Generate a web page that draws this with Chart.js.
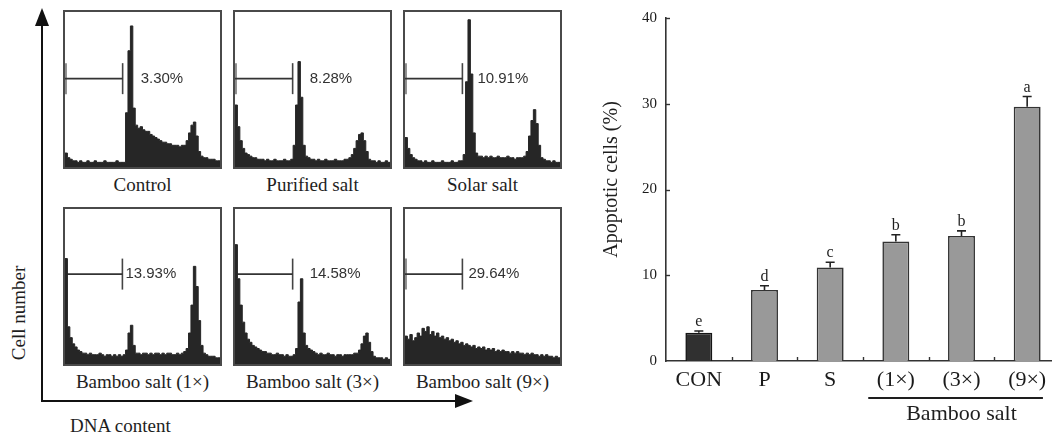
<!DOCTYPE html>
<html>
<head>
<meta charset="utf-8">
<script src="https://cdn.jsdelivr.net/npm/chart.js@4.4.0/dist/chart.umd.min.js"></script>
<style>
html, body { margin:0; padding:0; width:1052px; height:437px; overflow:hidden; background:#ffffff; }
.panel { position:absolute; width:159px; height:159px; box-sizing:border-box; border:2px solid #4a4a4a; background:#fff; }
.panel canvas { display:block; }
.txt { position:absolute; font-family:"Liberation Serif","Times New Roman",serif; font-size:19px; color:#1e1e1e; white-space:nowrap; line-height:1; }
#barWrap { position:absolute; left:560px; top:0; width:492px; height:437px; overflow:hidden; }
#barWrap canvas { position:absolute; left:0; top:0; }
</style>
</head>
<body>
<svg width="480" height="437" style="position:absolute;left:0;top:0">
  <line x1="42" y1="22" x2="42" y2="402" stroke="#111" stroke-width="2"/>
  <polygon points="42,8 35,26 49,26" fill="#111"/>
  <line x1="41" y1="401" x2="460" y2="401" stroke="#111" stroke-width="2"/>
  <polygon points="473,401 455,394 455,408" fill="#111"/>
</svg>
<div id="left"></div>
<div class="txt" style="left:18px;top:313px;transform:translate(-50%,-50%) rotate(-90deg);">Cell number</div>
<div class="txt" style="left:70px;top:425px;transform:translate(0,-50%);">DNA content</div>
<div id="barWrap"><canvas id="bars" width="510" height="437"></canvas></div>

<script>
// ---------------- data ----------------
const panelNames = ['Control', 'Purified salt', 'Solar salt', 'Bamboo salt (1×)', 'Bamboo salt (3×)', 'Bamboo salt (9×)'];

// DNA-content histograms (64 channels, % of panel height)
const histControl = [9,6,5,4,4,3,4,3,3,4,3,3,4,3,3,3,4,3,3,3,3,4,3,3,3,
  35,75,91,38,
  27,25,26,24,23,23,21,20,19,18,17,16,16,15,15,14,14,14,13,14,14,
  17,22,27,29,20,10,7,6,6,5,5,5,4,4];
const histPurified = [40,26,17,12,9,8,7,6,6,5,5,5,4,5,4,4,5,4,4,4,5,4,4,
  5,14,40,68,45,14,7,6,
  5,5,4,5,4,4,5,4,4,4,5,4,4,4,5,5,
  6,8,12,17,21,22,17,10,5,4,4,3,4,3,3,4,3];
const histSolar = [19,12,8,6,5,4,4,3,4,3,3,4,3,3,3,4,3,3,3,4,3,3,4,4,
  8,55,95,60,22,9,7,
  7,6,7,6,7,6,6,7,6,6,6,7,6,6,5,6,6,6,7,
  10,20,30,37,28,14,6,5,4,4,3,4,3,3];
const histBamboo1 = [68,24,17,13,11,9,8,7,7,6,7,6,6,6,7,6,5,6,6,5,6,5,6,5,6,
  9,20,25,12,7,
  7,6,7,7,6,7,6,7,7,6,7,6,7,7,6,6,7,6,7,8,
  10,20,38,63,50,28,12,7,6,5,5,5,4,4];
const histBamboo3 = [77,55,38,27,20,16,14,12,11,10,9,8,8,7,7,6,6,7,6,6,5,6,5,5,6,
  10,40,55,20,12,10,9,8,
  7,6,7,6,6,7,6,6,5,6,6,5,6,6,6,6,7,
  7,9,13,18,20,14,8,5,4,4,4,3,4,3];
const histBamboo9 = [18,16,19,15,17,20,18,23,21,24,
  19,21,18,20,17,18,16,17,15,16,
  14,15,13,14,12,13,12,11,12,10,
  11,10,11,9,10,9,10,8,9,8,
  9,8,8,7,8,7,8,7,7,6,
  7,6,7,6,6,5,6,5,6,5,
  5,4,5,4];
const histograms = [histControl, histPurified, histSolar, histBamboo1, histBamboo3, histBamboo9];

// gate marker (channel where gate ends, level in % of panel height)
const gateEnd = [23.8, 23.8, 23.7, 23.7, 23.8, 23.7];
const gateLevel = [57, 57, 57, 58, 58, 58];

// bar chart
const categories = ['CON', 'P', 'S', '(1×)', '(3×)', '(9×)'];
const apoptotic = [3.30, 8.28, 10.91, 13.93, 14.58, 29.64];
const errorBars = [0.2, 0.5, 0.6, 0.8, 0.6, 1.2];
const sigLetters = ['e', 'd', 'c', 'b', 'b', 'a'];
const yTicks = [0, 10, 20, 30, 40];
const groupLabel = 'Bamboo salt';
const yTitle = 'Apoptotic cells (%)';

// ---------------- layout / style ----------------
const SERIF = '"Liberation Serif","Times New Roman",serif';
const SANS = '"Liberation Sans",Arial,sans-serif';
const panelCols = [63, 233, 403];
const panelRows = [10, 207];
const panelSize = 159;
const labelGap = [18, 17, 15, 3, 17, 6];
const barFill = ['#303030', '#999999', '#999999', '#999999', '#999999', '#999999'];
const barEdge = ['#151515', '#333333', '#333333', '#333333', '#333333', '#333333'];

const gateText = {
  id: 'gateText',
  afterDatasetsDraw(chart, args, o) {
    const { ctx, scales: { x, y } } = chart;
    ctx.save();
    ctx.font = '15px ' + SANS;
    ctx.fillStyle = '#333333';
    ctx.textAlign = 'left';
    ctx.textBaseline = 'middle';
    ctx.fillText(o.text, x.getPixelForValue(o.end) + o.gap, y.getPixelForValue(o.level));
    ctx.restore();
  }
};

const left = document.getElementById('left');
histograms.forEach((h, i) => {
  const col = i % 3, row = Math.floor(i / 3);
  const px = panelCols[col], py = panelRows[row];
  const div = document.createElement('div');
  div.className = 'panel';
  div.style.left = px + 'px';
  div.style.top = py + 'px';
  const cv = document.createElement('canvas');
  cv.width = panelSize - 4; cv.height = panelSize - 4;
  div.appendChild(cv);
  left.appendChild(div);

  const lab = document.createElement('div');
  lab.className = 'txt';
  lab.textContent = panelNames[i];
  lab.style.left = (px + panelSize / 2) + 'px';
  lab.style.top = (py + 174) + 'px';
  lab.style.transform = 'translate(-50%,-50%)';
  left.appendChild(lab);

  const pts = h.map((v, k) => ({ x: k, y: v }));
  pts.push({ x: h.length, y: h[h.length - 1] });
  const g = gateLevel[i], e = gateEnd[i];
  new Chart(cv, {
    type: 'line',
    data: {
      datasets: [
        { data: pts, stepped: true, fill: 'origin', backgroundColor: '#262626', borderColor: '#262626', borderWidth: 1, pointRadius: 0 },
        { data: [{ x: 0, y: g }, { x: e, y: g }], borderColor: '#333', borderWidth: 1.6, pointRadius: 0, fill: false },
        { data: [{ x: e, y: g - 10 }, { x: e, y: g + 10 }], borderColor: '#444', borderWidth: 1.6, pointRadius: 0, fill: false },
        { data: [{ x: 0.35, y: g - 10 }, { x: 0.35, y: g + 10 }], borderColor: '#8c8c8c', borderWidth: 2.2, pointRadius: 0, fill: false }
      ]
    },
    options: {
      responsive: false, animation: false,
      layout: { padding: 0 },
      plugins: { legend: { display: false }, tooltip: { enabled: false },
        gateText: { text: apoptotic[i].toFixed(2) + '%', end: e, level: g, gap: labelGap[i] } },
      scales: {
        x: { type: 'linear', min: 0, max: h.length, display: false },
        y: { min: 0, max: 100, display: false }
      }
    },
    plugins: [gateText]
  });
});

const barDecor = {
  id: 'barDecor',
  afterDatasetsDraw(chart) {
    const { ctx, scales: { x, y } } = chart;
    const meta = chart.getDatasetMeta(0);
    ctx.save();
    ctx.strokeStyle = '#333';
    ctx.lineWidth = 1.4;
    // inward tick marks
    yTicks.forEach(v => {
      if (v === 0) return;
      const py = Math.round(y.getPixelForValue(v)) + 0.5;
      ctx.beginPath(); ctx.moveTo(x.left, py); ctx.lineTo(x.left + 4, py); ctx.stroke();
    });
    for (let i = 1; i < categories.length; i++) {
      const px = Math.round((x.getPixelForValue(i - 1) + x.getPixelForValue(i)) / 2) + 0.5;
      ctx.beginPath(); ctx.moveTo(px, y.bottom); ctx.lineTo(px, y.bottom - 4); ctx.stroke();
    }
    // error bars and significance letters
    meta.data.forEach((bar, i) => {
      const top = y.getPixelForValue(apoptotic[i] + errorBars[i]);
      ctx.strokeStyle = '#222';
      ctx.lineWidth = 1.6;
      ctx.beginPath();
      ctx.moveTo(bar.x, bar.y); ctx.lineTo(bar.x, top);
      ctx.moveTo(bar.x - 4.5, top); ctx.lineTo(bar.x + 4.5, top);
      ctx.stroke();
      ctx.fillStyle = '#1e1e1e';
      ctx.font = '16px ' + SERIF;
      ctx.textAlign = 'center';
      ctx.textBaseline = 'alphabetic';
      ctx.fillText(sigLetters[i], bar.x, top - 5);
    });
    // group bracket
    const w = x.width / categories.length;
    const x1 = x.getPixelForValue(3) - 0.42 * w;
    const x2 = x.getPixelForValue(5) + 0.24 * w;
    const ly = y.bottom + 37;
    ctx.strokeStyle = '#1e1e1e';
    ctx.lineWidth = 2;
    ctx.beginPath(); ctx.moveTo(x1, ly); ctx.lineTo(x2, ly); ctx.stroke();
    ctx.fillStyle = '#1e1e1e';
    ctx.font = '22px ' + SERIF;
    ctx.textAlign = 'center';
    ctx.textBaseline = 'middle';
    ctx.fillText(groupLabel, x.getPixelForValue(4), y.bottom + 53);
    // y-axis title
    ctx.translate(52, (y.top + y.bottom) / 2 - 10);
    ctx.rotate(-Math.PI / 2);
    ctx.font = '20px ' + SERIF;
    ctx.fillText(yTitle, 0, 0);
    ctx.restore();
  }
};

new Chart(document.getElementById('bars'), {
  type: 'bar',
  data: {
    labels: categories,
    datasets: [{
      data: apoptotic,
      backgroundColor: barFill,
      borderColor: barEdge,
      borderWidth: 1.6,
      borderSkipped: 'bottom',
      categoryPercentage: 1,
      barPercentage: 0.41
    }]
  },
  options: {
    responsive: false, animation: false,
    layout: { padding: { left: 40, top: 16, right: 10, bottom: 0 } },
    plugins: { legend: { display: false }, tooltip: { enabled: false } },
    scales: {
      x: {
        grid: { display: false, drawTicks: false },
        border: { display: true, color: '#333', width: 1.6 },
        ticks: { color: '#1a1a1a', font: { family: SERIF, size: 22 }, padding: 6 },
        afterFit(s) { s.height = 76; }
      },
      y: {
        min: 0, max: 40,
        grid: { display: false, drawTicks: false },
        border: { display: true, color: '#333', width: 1.6 },
        afterBuildTicks(s) { s.ticks = yTicks.map(v => ({ value: v })); },
        ticks: { color: '#1a1a1a', font: { family: SERIF, size: 15 }, padding: 9 },
        afterFit(s) { s.width = 66; }
      }
    }
  },
  plugins: [barDecor]
});
</script>
</body>
</html>
